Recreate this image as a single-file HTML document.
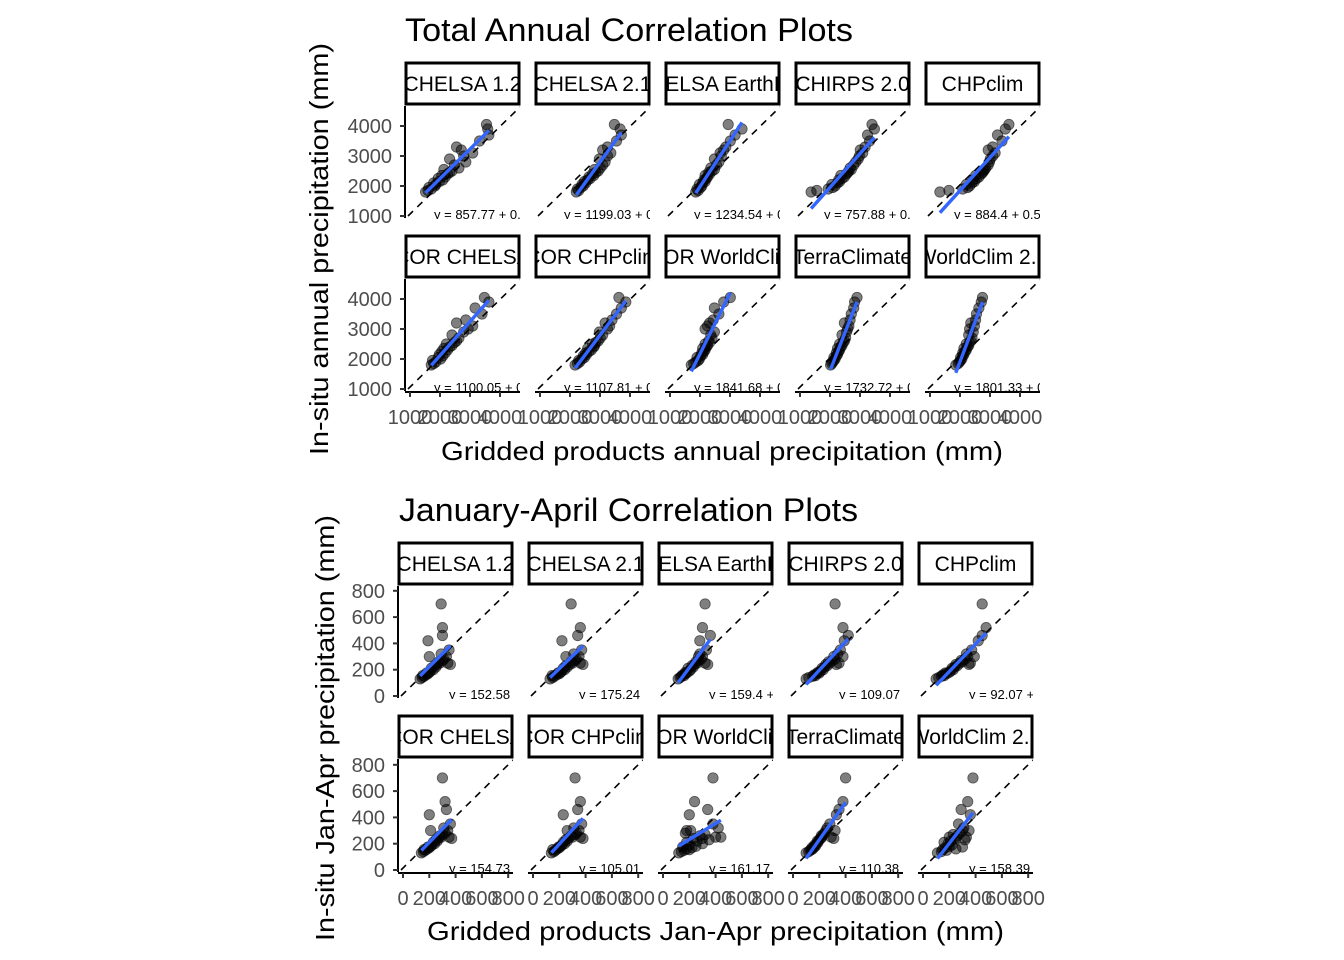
<!DOCTYPE html>
<html><head><meta charset="utf-8"><style>
html,body{margin:0;padding:0;background:#fff;}
svg{display:block;font-family:"Liberation Sans",Arial,sans-serif;}
</style></head><body>
<svg id="chart" width="1344" height="960" viewBox="0 0 1344 960" xmlns="http://www.w3.org/2000/svg">
<defs id="defs"></defs>
<text x="405" y="41" font-size="32" textLength="448" lengthAdjust="spacingAndGlyphs">Total Annual Correlation Plots</text>
<text x="441" y="460" font-size="26" textLength="562" lengthAdjust="spacingAndGlyphs">Gridded products annual precipitation (mm)</text>
<text transform="translate(328,455) rotate(-90)" font-size="26" textLength="412" lengthAdjust="spacingAndGlyphs">In-situ annual precipitation (mm)</text>
<text x="399" y="521" font-size="32" textLength="459" lengthAdjust="spacingAndGlyphs">January-April Correlation Plots</text>
<text x="427" y="940" font-size="26" textLength="577" lengthAdjust="spacingAndGlyphs">Gridded products Jan-Apr precipitation (mm)</text>
<text transform="translate(334,941) rotate(-90)" font-size="26" textLength="426" lengthAdjust="spacingAndGlyphs">In-situ Jan-Apr precipitation (mm)</text>
<g id="panels"></g>
</svg>
<script>
const products = ["CHELSA 1.2","CHELSA 2.1","CHELSA EarthEnv","CHIRPS 2.0","CHPclim","COR CHELSA","COR CHPclim","COR WorldClim","TerraClimate","WorldClim 2.1"];
const annualEq = ["y = 857.77 + 0.5x","y = 1199.03 + 0.5x","y = 1234.54 + 0.5x","y = 757.88 + 0.5x","y = 884.4 + 0.5x","y = 1100.05 + 0.5x","y = 1107.81 + 0.5x","y = 1841.68 + 0.5x","y = 1732.72 + 0.5x","y = 1801.33 + 0.5x"];
const janEq = ["y = 152.58 + 0.5x","y = 175.24 + 0.5x","y = 159.4 + 0.5x","y = 109.07 + 0.5x","y = 92.07 + 0.5x","y = 154.73 + 0.5x","y = 105.01 + 0.5x","y = 161.17 + 0.5x","y = 110.38 + 0.5x","y = 158.39 + 0.5x"];
const annualTicks = [1000,2000,3000,4000];
const janTicks = [0,200,400,600,800];
const annualInsitu = [1800,1850,1900,1950,2000,2050,2100,2150,2200,2250,2300,2350,2400,2450,2500,2550,2600,2700,2800,2900,3000,3100,3200,3300,3500,3700,3900,4050];
const annualGrid0 = [1520,1600,1710,1630,1830,1860,1790,1980,2090,1940,2170,2060,2250,2320,2400,2130,2630,2480,2860,2320,2790,3090,2710,2550,3320,3630,3590,3550];
const annualGrid1 = [2210,2290,2250,2360,2440,2400,2520,2480,2590,2670,2630,2790,2750,2860,2940,2820,3010,3090,3170,2980,3250,3360,3090,3250,3550,3710,3670,3480];
const annualGrid2 = [1860,1940,1900,2020,2060,1980,2090,2170,2130,2210,2250,2170,2320,2290,2400,2480,2360,2550,2630,2480,2710,2670,2790,2860,3010,3170,3400,2940];
const annualGrid3 = [1370,1560,1940,2090,2170,2060,2250,2320,2290,2400,2480,2360,2550,2590,2630,2710,2670,2790,2860,2940,2980,3090,3010,3170,3320,3250,3480,3400];
const annualGrid4 = [1330,1630,2090,2250,2320,2210,2400,2480,2440,2550,2630,2520,2710,2750,2790,2820,2860,2940,2980,3010,3090,3170,2940,3090,3400,3250,3510,3630];
const annualGrid5 = [1710,1790,1860,1750,2020,1940,2090,1980,2170,2060,2250,2130,2320,2400,2210,2480,2550,2630,2400,2790,2940,3090,2550,2860,3400,3170,3630,3480];
const annualGrid6 = [2170,2250,2320,2290,2400,2480,2440,2550,2520,2630,2710,2590,2790,2820,2750,2860,2940,3010,3090,2980,3250,3320,3170,3400,3550,3710,3860,3630];
const annualGrid7 = [1710,1790,1860,1940,1980,1900,2020,2090,2060,2130,2170,2090,2210,2250,2170,2320,2290,2400,2360,2480,2170,2250,2320,2440,2630,2480,2790,3010];
const annualGrid8 = [2020,2060,2090,2130,2170,2130,2210,2250,2210,2290,2320,2250,2360,2400,2320,2440,2480,2520,2400,2550,2590,2630,2480,2670,2710,2790,2820,2900];
const annualGrid9 = [1860,1940,1980,2020,2060,2020,2090,2130,2090,2170,2210,2130,2250,2290,2210,2320,2360,2400,2290,2440,2320,2480,2360,2520,2550,2630,2710,2750];
const janInsitu = [130,140,150,155,160,170,175,180,190,200,210,220,230,240,250,260,270,280,300,320,350,250,240,300,420,460,520,700];
const janGrid0 = [130,145,160,150,175,190,180,200,210,230,215,250,240,260,280,270,300,310,330,290,350,340,360,200,190,300,300,290];
const janGrid1 = [130,150,160,145,180,200,190,210,220,240,230,260,250,280,300,290,320,330,350,310,370,360,380,250,220,340,360,290];
const janGrid2 = [115,130,140,160,150,170,180,170,200,210,190,230,220,240,260,250,270,290,300,280,330,320,340,270,280,360,300,320];
const janGrid3 = [100,120,150,170,160,180,200,190,210,230,220,240,260,250,280,270,300,320,310,340,360,350,330,380,390,420,380,320];
const janGrid4 = [100,120,140,160,150,180,170,200,210,230,220,240,260,250,280,300,290,320,340,330,370,360,350,390,420,450,480,450];
const janGrid5 = [140,155,170,160,185,200,190,210,220,240,230,260,250,270,290,280,300,320,340,310,360,350,370,210,200,330,320,300];
const janGrid6 = [140,160,170,150,185,200,195,210,220,240,230,260,250,270,300,290,320,330,350,310,370,360,380,260,230,340,360,320];
const janGrid7 = [120,140,160,200,180,220,150,250,200,300,180,260,350,230,400,280,320,170,210,420,380,440,300,180,200,340,240,380];
const janGrid8 = [100,120,130,140,150,145,160,170,165,180,190,185,200,210,220,215,230,240,250,260,280,290,310,320,330,350,380,400];
const janGrid9 = [110,140,180,150,250,170,300,200,220,190,160,210,320,240,200,260,230,280,350,310,270,330,250,300,360,290,340,380];

const annualGrids=[annualGrid0,annualGrid1,annualGrid2,annualGrid3,annualGrid4,annualGrid5,annualGrid6,annualGrid7,annualGrid8,annualGrid9];
const janGrids=[janGrid0,janGrid1,janGrid2,janGrid3,janGrid4,janGrid5,janGrid6,janGrid7,janGrid8,janGrid9];
const NS="http://www.w3.org/2000/svg";
const root=document.getElementById('panels');
const defs=document.getElementById('defs');
function mk(tag,attrs,parent){const e=document.createElementNS(NS,tag);for(const k in attrs)e.setAttribute(k,attrs[k]);(parent||root).appendChild(e);return e;}
let clipId=0;
function clip(x,y,w,h){const id='c'+(clipId++);const cp=mk('clipPath',{id:id},defs);mk('rect',{x:x,y:y,width:w,height:h},cp);return 'url(#'+id+')';}

function drawFigure(cfg){
  const lefts=cfg.lefts, W=115;
  for(let i=0;i<10;i++){
    const col=i%5,row=Math.floor(i/5);
    const L=lefts[col], st=cfg.stripTop[row], pt=st+44, pb=cfg.panelBottom[row];
    const xs=v=>cfg.xs(L,v), ys=v=>cfg.ys(pb,v);
    const g=mk('g',{});
    
    
    const sr=mk('rect',{x:L+1,y:st+1,width:W-2,height:41,fill:'#fff',stroke:'#000','stroke-width':3},g);
    
    
    const stx=mk('text',{x:L+W/2,y:st+29,'font-size':21,'text-anchor':'middle','clip-path':clip(L+2,st,W-4,43)},g);
    stx.textContent=products[i];
    
    
    const cp=clip(L,pt,W,pb-pt+1);
    const pg=mk('g',{'clip-path':cp},g);
    const d=mk('line',{x1:L+3,y1:pb-2,x2:L+W,y2:pt+1,stroke:'#000','stroke-width':1.6,'stroke-dasharray':'7,6'},pg);
    
    
    const X=cfg.grids[i], Y=cfg.insitu;
    for(let k=0;k<X.length;k++){
      const c=mk('circle',{cx:xs(X[k]),cy:ys(Y[k]),r:5.2,fill:'rgba(0,0,0,0.5)',stroke:'rgba(0,0,0,0.55)','stroke-width':0.8},pg);
      
      
    }
    let n=X.length,mx=0,my=0;for(let k=0;k<n;k++){mx+=X[k];my+=Y[k];}mx/=n;my/=n;
    let sxy=0,sxx=0;for(let k=0;k<n;k++){sxy+=(X[k]-mx)*(Y[k]-my);sxx+=(X[k]-mx)**2;}
    const b=sxy/sxx,a=my-b*mx,x0=Math.min(...X),x1=Math.max(...X);
    const rl=mk('line',{x1:xs(x0),y1:ys(a+b*x0),x2:xs(x1),y2:ys(a+b*x1),stroke:'#3366FF','stroke-width':3.4},pg);
    
    
    const eq=mk('text',{x:L+cfg.eqOff,y:pb+1,'font-size':13,fill:'#000'},pg);
    eq.textContent=cfg.eq[i];
    
    
    if(col===0){
      const ya=mk('g',{},g);
      
      
      mk('line',{x1:L,y1:pt,x2:L,y2:pb,stroke:'#000','stroke-width':2},ya);
      cfg.yTicks.forEach(t=>{const y=ys(t);mk('line',{x1:L-5,y1:y,x2:L,y2:y,stroke:'#333','stroke-width':2},ya);
        const tt=mk('text',{x:L-13,y:y+7,'font-size':20,fill:'#4d4d4d','text-anchor':'end'},ya);tt.textContent=t;});
    }
    if(row===1){
      const xa=mk('g',{},g);
      
      
      mk('line',{x1:L,y1:pb+1,x2:L+W,y2:pb+1,stroke:'#000','stroke-width':2},xa);
      cfg.xTicks.forEach(t=>{const x=xs(t);mk('line',{x1:x,y1:pb+1,x2:x,y2:pb+6,stroke:'#333','stroke-width':2},xa);
        const tt=mk('text',{x:x,y:pb+33,'font-size':20,fill:'#4d4d4d','text-anchor':'middle'},xa);tt.textContent=t;});
    }
  }
}
drawFigure({prefix:'annual',lefts:[405,535,665,795,925],stripTop:[62,235],panelBottom:[218,391],
  xs:(L,v)=>L+5+(v-1000)*0.030, ys:(pb,v)=>pb-2-(v-1000)*0.030,
  grids:annualGrids,insitu:annualInsitu,eq:annualEq,eqOff:29,yTicks:annualTicks,xTicks:annualTicks});
drawFigure({prefix:'janapr',lefts:[398,528,658,788,918],stripTop:[542,715],panelBottom:[698,872],
  xs:(L,v)=>L+5+v*0.1315, ys:(pb,v)=>pb-2-v*0.1315,
  grids:janGrids,insitu:janInsitu,eq:janEq,eqOff:51,yTicks:janTicks,xTicks:janTicks});
</script>
</body></html>
